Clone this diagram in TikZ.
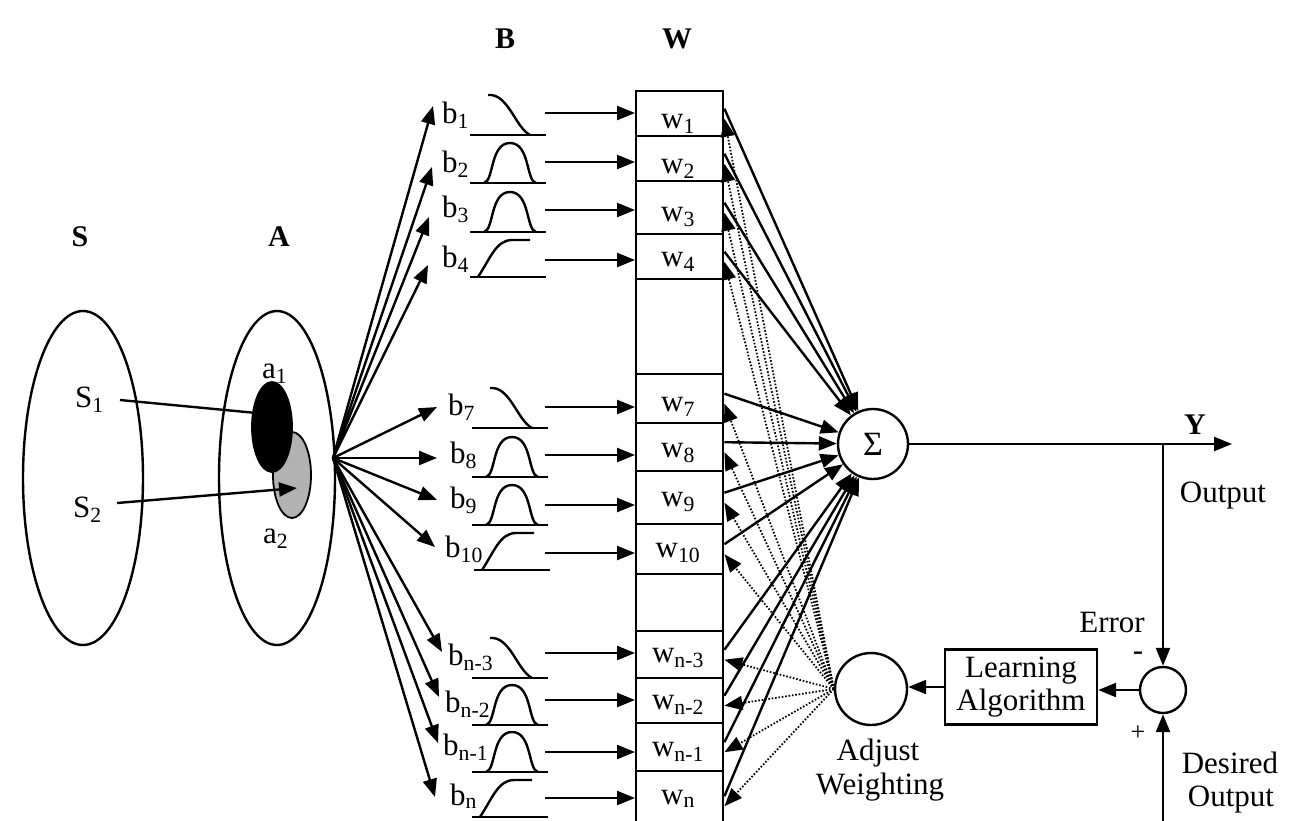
\documentclass[tikz,border=0pt]{standalone}
\usepackage{fontspec}
\setmainfont{Liberation Serif}
\usetikzlibrary{arrows.meta,shapes.geometric}
\newcommand\cvdesc[2]{\draw[crv] (#1,#2) -- +(76,0); \draw[crv] (#1+18,#2-40) .. controls (#1+38,#2-42) and (#1+45,#2-8) .. (#1+60,#2);}
\newcommand\cvbump[2]{\draw[crv] (#1,#2) -- +(76,0); \draw[crv] (#1+14,#2) .. controls (#1+24,#2-2) and (#1+20,#2-40) .. (#1+40,#2-40) .. controls (#1+60,#2-40) and (#1+56,#2-2) .. (#1+66,#2);}
\newcommand\cvrise[2]{\draw[crv] (#1,#2) -- +(76,0); \draw[crv] (#1+8,#2) .. controls (#1+20,#2-18) and (#1+26,#2-37) .. (#1+42,#2-37) -- (#1+60,#2-37);}
\begin{document}
\begin{tikzpicture}[x=1pt,y=-1pt,
  ln/.style={line width=2.4pt},
  arr/.style={-{Triangle[length=18pt,width=14pt]}},
  dotln/.style={line width=1.8pt, dash pattern=on 1.6pt off 1.8pt},
  txt/.style={font=\fontsize{31}{35}\selectfont, inner sep=0pt},
  hdr/.style={font=\fontsize{30}{34}\selectfont\bfseries, inner sep=0pt},
  wrow/.style={draw, line width=2.4pt, minimum width=87pt, inner sep=0pt, anchor=north west},
  crv/.style={line width=2.4pt, line join=round}
]
\useasboundingbox (0,0) rectangle (1301,820);

% headers
\node[hdr, anchor=base] (hS) at (80,246) {S};
\node[hdr, anchor=base] (hA) at (279,246) {A};
\node[hdr, anchor=base] (hB) at (505,48) {B};
\node[hdr, anchor=base] (hW) at (677,48) {W};
\node[hdr, anchor=base] (hY) at (1195,434) {Y};

% S and A sets
\node[ellipse, draw, ln, minimum width=120pt, minimum height=334pt, inner sep=0pt] (Sset) at (83,478) {};
\node[ellipse, draw, ln, minimum width=116pt, minimum height=334pt, inner sep=0pt] (Aset) at (277,478) {};
\node[ellipse, draw, line width=1.8pt, fill=black!30, minimum width=38pt, minimum height=86pt, inner sep=0pt] (a2) at (292,475) {};
\node[ellipse, draw, line width=1.8pt, fill=black, minimum width=40pt, minimum height=90pt, inner sep=0pt] (a1) at (272,427) {};
\node[txt, anchor=base west] (ls1) at (75,407) {S\textsubscript{1}};
\node[txt, anchor=base west] (ls2) at (73,517) {S\textsubscript{2}};
\node[txt, anchor=base west] (la1) at (262,378) {a\textsubscript{1}};
\node[txt, anchor=base west] (la2) at (263,543) {a\textsubscript{2}};
\coordinate (s1a) at (120,400);
\coordinate (s2a) at (117,503);
\coordinate (s2t) at (297,488);
\draw[ln] (s1a) -- (a1.144);
\draw[ln,arr] (s2a) -- (s2t);

% fan
\coordinate (fan) at (333,458);
\foreach \t in {(433,106),(432,167),(429,217),(428,265),(437,407),(437,458),(437,500),(435,547),(442,652),(439,697),(438,743),(435,797)}
  \draw[ln,arr] (fan) -- \t;

% b labels
\node[txt, anchor=base west] (lb1) at (442,123) {b\textsubscript{1}};
\node[txt, anchor=base west] (lb2) at (442,172) {b\textsubscript{2}};
\node[txt, anchor=base west] (lb3) at (442,217) {b\textsubscript{3}};
\node[txt, anchor=base west] (lb4) at (442,267) {b\textsubscript{4}};
\node[txt, anchor=base west] (lb7) at (448,415) {b\textsubscript{7}};
\node[txt, anchor=base west] (lb8) at (450,463) {b\textsubscript{8}};
\node[txt, anchor=base west] (lb9) at (450,508) {b\textsubscript{9}};
\node[txt, anchor=base west] (lb10) at (445,557) {b\textsubscript{10}};
\node[txt, anchor=base west] (lbn3) at (448,665) {b\textsubscript{n-3}};
\node[txt, anchor=base west] (lbn2) at (445,712) {b\textsubscript{n-2}};
\node[txt, anchor=base west] (lbn1) at (443,755) {b\textsubscript{n-1}};
\node[txt, anchor=base west] (lbn) at (450,805) {b\textsubscript{n}};

% curves
\cvdesc{470}{135}
\cvbump{470}{183}
\cvbump{470}{232}
\cvrise{470}{277}
\cvdesc{472}{428}
\cvbump{472}{477}
\cvbump{472}{525}
\cvrise{474}{570}
\cvdesc{472}{678}
\cvbump{472}{725}
\cvbump{472}{772}
\cvrise{472}{817}

% W column
\node[wrow, minimum height=45pt] (w1) at (635,90) {};
\node[wrow, minimum height=45pt] (w2) at (635,135) {};
\node[wrow, minimum height=53pt] (w3) at (635,180) {};
\node[wrow, minimum height=45pt] (w4) at (635,233) {};
\node[wrow, minimum height=95pt] (gA) at (635,278) {};
\node[wrow, minimum height=49pt] (w7) at (635,373) {};
\node[wrow, minimum height=48pt] (w8) at (635,422) {};
\node[wrow, minimum height=53pt] (w9) at (635,470) {};
\node[wrow, minimum height=50pt] (w10) at (635,523) {};
\node[wrow, minimum height=57pt] (gB) at (635,573) {};
\node[wrow, minimum height=47pt] (wn3) at (635,630) {};
\node[wrow, minimum height=45pt] (wn2) at (635,677) {};
\node[wrow, minimum height=48pt] (wn1) at (635,722) {};
\node[wrow, minimum height=60pt] (wn) at (635,770) {};

\node[txt, anchor=base] (lw1) at (678,128) {w\textsubscript{1}};
\node[txt, anchor=base] (lw2) at (678,173) {w\textsubscript{2}};
\node[txt, anchor=base] (lw3) at (678,221) {w\textsubscript{3}};
\node[txt, anchor=base] (lw4) at (678,266) {w\textsubscript{4}};
\node[txt, anchor=base] (lw7) at (678,411) {w\textsubscript{7}};
\node[txt, anchor=base] (lw8) at (678,457) {w\textsubscript{8}};
\node[txt, anchor=base] (lw9) at (678,506) {w\textsubscript{9}};
\node[txt, anchor=base] (lw10) at (678,557) {w\textsubscript{10}};
\node[txt, anchor=base] (lwn3) at (678,662) {w\textsubscript{n-3}};
\node[txt, anchor=base] (lwn2) at (678,709) {w\textsubscript{n-2}};
\node[txt, anchor=base] (lwn1) at (678,756) {w\textsubscript{n-1}};
\node[txt, anchor=base] (lwn) at (678,804) {w\textsubscript{n}};

% b -> W arrows
\foreach \w/\yy in {w1/113,w2/162,w3/210,w4/260,w7/407,w8/455,w9/505,w10/553,wn3/653,wn2/700,wn1/752,wn/798}{
  \coordinate (h\w) at (545,\yy);
  \draw[ln,arr] (h\w) -- (h\w -| \w.west);
}

% summation, adjust, learning, error
\node[circle, draw, ln, minimum size=70pt, inner sep=0pt, font=\fontsize{34}{36}\selectfont] (sig) at (873,444) {Σ};
\node[circle, draw, ln, minimum size=72pt, inner sep=0pt] (adj) at (871,689) {};
\node[draw, ln, minimum width=152pt, minimum height=75pt, inner sep=0pt, align=center, font=\fontsize{31}{33}\selectfont] (learn) at (1021,687) {Learning\\Algorithm};
\node[circle, draw, ln, minimum size=46pt, inner sep=0pt] (err) at (1163,690) {};

% dotted adjust lines and solid summation lines
\foreach \w in {w1,w2,w3,w4,w7,w8,w9,w10,wn3,wn2,wn1,wn}{
  \draw[dotln,arr] (adj.west) -- ([yshift=-5pt]\w.east);
}
\foreach \w in {w1,w2,w3,w4,w7,w8,w9,w10,wn3,wn2,wn1,wn}{
  \draw[ln,arr] ([yshift=5pt]\w.east) -- (sig);
}

% output and feedback
\coordinate (yend) at (1232,444);
\coordinate (jn) at (1163,444);
\coordinate (dsrc) at (1163,830);
\draw[ln,arr] (sig.east) -- (yend);
\draw[ln,arr] (jn) -- (err.north);
\draw[ln,arr] (dsrc) -- (err.south);
\draw[ln,arr] (err.west) -- (err.west -| learn.east);
\draw[ln,arr] (learn.west) -- (learn.west -| adj.east);

% labels
\node[txt, anchor=base] (lout) at (1223,502) {Output};
\node[txt, anchor=base] (lerr) at (1112,632) {Error};
\node[txt, anchor=base] (lminus) at (1138,660) {-};
\node[inner sep=0pt, font=\fontsize{26}{28}\selectfont] (lplus) at (1138,733) {+};
\node[txt, anchor=base] (ldes1) at (1230,773) {Desired};
\node[txt, anchor=base] (ldes2) at (1231,806) {Output};
\node[txt, anchor=base] (ladj1) at (878,760) {Adjust};
\node[txt, anchor=base] (ladj2) at (880,794) {Weighting};
\end{tikzpicture}
\end{document}
